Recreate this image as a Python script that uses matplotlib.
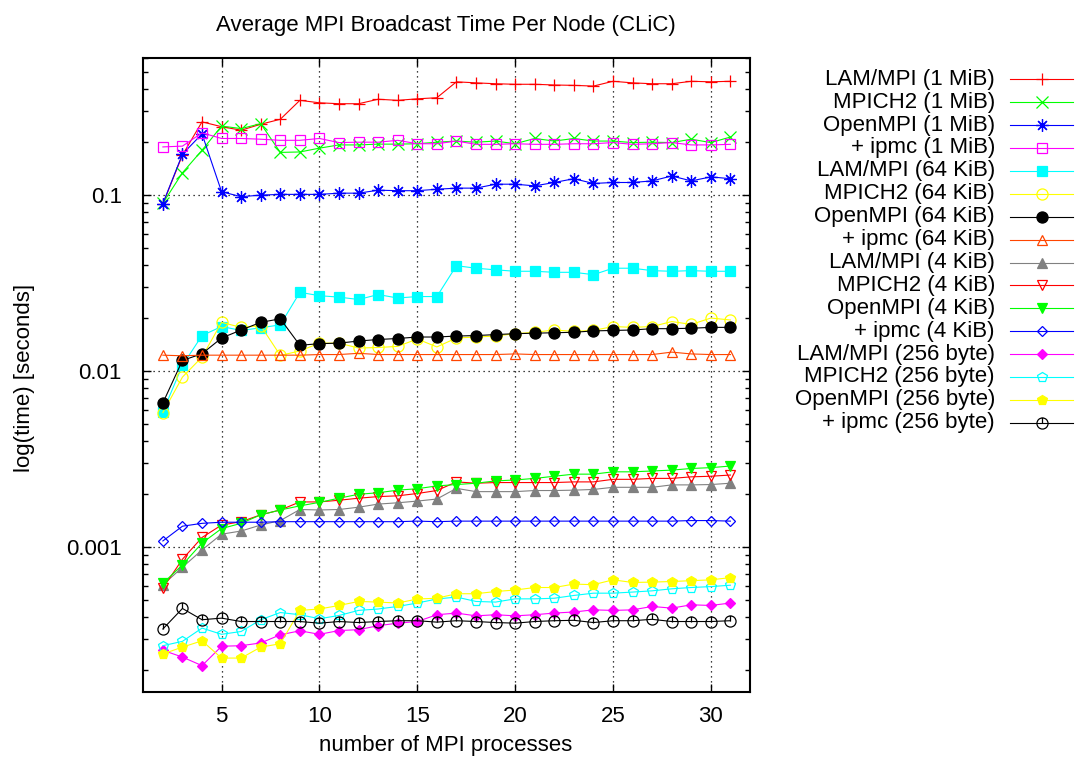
import matplotlib
import matplotlib.pyplot as plt
from matplotlib.lines import Line2D
from matplotlib.path import Path
from matplotlib.ticker import FixedLocator, LogLocator, NullFormatter, FuncFormatter

matplotlib.use('Agg')

plt.rcParams['font.family'] = ['Liberation Sans', 'DejaVu Sans']

procs = list(range(2, 32))

lam_1m = [0.089, 0.169, 0.261, 0.245, 0.234, 0.253, 0.270, 0.346, 0.335, 0.331, 0.331, 0.351, 0.346, 0.353, 0.358,
          0.441, 0.435, 0.430, 0.427, 0.427, 0.423, 0.421, 0.417, 0.444, 0.435, 0.430, 0.430, 0.444, 0.441, 0.444]
mpich_1m = [0.090, 0.134, 0.180, 0.247, 0.239, 0.255, 0.175, 0.176, 0.185, 0.193, 0.193, 0.195, 0.195, 0.196, 0.200,
            0.203, 0.200, 0.203, 0.196, 0.210, 0.203, 0.210, 0.203, 0.203, 0.199, 0.200, 0.199, 0.208, 0.199, 0.214]
open_1m = [0.0896, 0.171, 0.223, 0.1045, 0.098, 0.100, 0.101, 0.101, 0.101, 0.1026, 0.1026, 0.1067, 0.106, 0.106,
           0.108, 0.1096, 0.1096, 0.1154, 0.1154, 0.1129, 0.118, 0.124, 0.1165, 0.118, 0.118, 0.1205, 0.1285, 0.1205,
           0.127, 0.124]
ipmc_1m = [0.188, 0.190, 0.226, 0.210, 0.210, 0.208, 0.205, 0.205, 0.210, 0.199, 0.200, 0.200, 0.205, 0.196, 0.196,
           0.203, 0.1945, 0.1945, 0.196, 0.1945, 0.1945, 0.196, 0.196, 0.199, 0.1945, 0.196, 0.199, 0.193, 0.193,
           0.1945]

lam_64k = [0.00585, 0.01076, 0.0159, 0.0179, 0.0170, 0.0176, 0.0183, 0.0280, 0.0268, 0.0263, 0.0255, 0.0272, 0.0260,
           0.0265, 0.0265, 0.0397, 0.0384, 0.0376, 0.0369, 0.0369, 0.0364, 0.0364, 0.0353, 0.0384, 0.0384, 0.0372,
           0.0369, 0.0372, 0.0369, 0.0369]
mpich_64k = [0.0058, 0.00923, 0.0120, 0.0189, 0.0177, 0.0181, 0.01226, 0.0130, 0.0144, 0.0144, 0.0135, 0.0136, 0.0138,
             0.0152, 0.0137, 0.0154, 0.0156, 0.0158, 0.0163, 0.0166, 0.0171, 0.0168, 0.0170, 0.0179, 0.0177, 0.0179,
             0.0191, 0.0184, 0.0200, 0.0195]
open_64k = [0.00658, 0.01148, 0.01253, 0.0154, 0.0171, 0.0189, 0.0198, 0.0140, 0.0143, 0.0144, 0.0148, 0.0151, 0.0153,
            0.0156, 0.0156, 0.0158, 0.0159, 0.0161, 0.0163, 0.0164, 0.0165, 0.0166, 0.0169, 0.0170, 0.0171, 0.0174,
            0.0174, 0.0175, 0.0177, 0.0177]
ipmc_64k = [0.0123, 0.0122, 0.0123, 0.0123, 0.0123, 0.0123, 0.0123, 0.0123, 0.0124, 0.0124, 0.0126, 0.0124, 0.0124,
            0.0124, 0.0124, 0.0124, 0.0124, 0.0124, 0.0125, 0.0124, 0.0124, 0.0124, 0.0124, 0.0124, 0.0124, 0.0124,
            0.0128, 0.0125, 0.0124, 0.0124]

lam_4k = [0.000608, 0.000765, 0.00096, 0.00118, 0.00123, 0.00133, 0.00141, 0.00163, 0.00162, 0.00163, 0.00168,
          0.00175, 0.00178, 0.00182, 0.00187, 0.00215, 0.00206, 0.00206, 0.00206, 0.00209, 0.00209, 0.0021, 0.00212,
          0.00218, 0.00218, 0.00218, 0.00225, 0.00225, 0.00226, 0.0023]
mpich_4k = [0.000582, 0.00085, 0.00113, 0.00133, 0.00139, 0.00152, 0.00162, 0.0018, 0.0018, 0.00184, 0.00189, 0.00193,
            0.00195, 0.00201, 0.00209, 0.00234, 0.0023, 0.00232, 0.00232, 0.00232, 0.00232, 0.00234, 0.00234, 0.00242,
            0.00242, 0.00245, 0.00245, 0.0025, 0.00252, 0.00256]
open_4k = [0.00062, 0.00079, 0.00105, 0.00127, 0.00136, 0.00152, 0.00162, 0.00171, 0.00179, 0.00189, 0.00199,
           0.00203, 0.0021, 0.00214, 0.00222, 0.00226, 0.0023, 0.00237, 0.0024, 0.00245, 0.00252, 0.00259, 0.00259,
           0.00267, 0.00267, 0.0027, 0.00273, 0.00279, 0.00282, 0.00288]
ipmc_4k = [0.00108, 0.00131, 0.00136, 0.00138, 0.00138, 0.00138, 0.00139, 0.00139, 0.00139, 0.00139, 0.00139,
           0.00139, 0.00139, 0.00140, 0.00139, 0.00140, 0.00140, 0.00140, 0.00140, 0.00140, 0.00140, 0.00140, 0.00140,
           0.00140, 0.00140, 0.00140, 0.00140, 0.00141, 0.00141, 0.00140]

lam_256 = [0.000258, 0.000236, 0.000211, 0.000272, 0.000274, 0.000284, 0.000316, 0.000333, 0.000318, 0.000334,
           0.000338, 0.000356, 0.000368, 0.000376, 0.000411, 0.00042, 0.000405, 0.000411, 0.000405, 0.000411, 0.00042,
           0.000426, 0.000438, 0.000435, 0.000438, 0.000458, 0.000448, 0.000468, 0.000464, 0.000479]
mpich_256 = [0.000274, 0.00029, 0.000345, 0.000318, 0.00033, 0.000385, 0.000423, 0.000411, 0.00039, 0.000407,
             0.000435, 0.000443, 0.000458, 0.000479, 0.000505, 0.000518, 0.000489, 0.000485, 0.000506, 0.000506,
             0.00051, 0.000529, 0.000545, 0.000545, 0.000553, 0.000562, 0.000577, 0.000587, 0.000594, 0.000605]
open_256 = [0.000246, 0.000269, 0.000292, 0.000233, 0.000233, 0.000269, 0.000281, 0.000435, 0.000443, 0.000464,
            0.000489, 0.000485, 0.000479, 0.000505, 0.00051, 0.000541, 0.000541, 0.000557, 0.000568, 0.000587,
            0.000587, 0.000614, 0.000609, 0.000649, 0.000627, 0.00063, 0.000635, 0.000642, 0.000649, 0.000668]
ipmc_256 = [0.000341, 0.000446, 0.000385, 0.000393, 0.000376, 0.000376, 0.000376, 0.000376, 0.000368, 0.000376,
            0.000371, 0.000376, 0.00038, 0.00038, 0.000373, 0.00038, 0.000376, 0.000371, 0.000368, 0.000376, 0.00038,
            0.000382, 0.000371, 0.00038, 0.00038, 0.000387, 0.000376, 0.000376, 0.000376, 0.00038]

labels = ['LAM/MPI (1 MiB)', 'MPICH2 (1 MiB)', 'OpenMPI (1 MiB)', '+ ipmc (1 MiB)',
          'LAM/MPI (64 KiB)', 'MPICH2 (64 KiB)', 'OpenMPI (64 KiB)', '+ ipmc (64 KiB)',
          'LAM/MPI (4 KiB)', 'MPICH2 (4 KiB)', 'OpenMPI (4 KiB)', '+ ipmc (4 KiB)',
          'LAM/MPI (256 byte)', 'MPICH2 (256 byte)', 'OpenMPI (256 byte)', '+ ipmc (256 byte)']
series = [lam_1m, mpich_1m, open_1m, ipmc_1m, lam_64k, mpich_64k, open_64k, ipmc_64k,
          lam_4k, mpich_4k, open_4k, ipmc_4k, lam_256, mpich_256, open_256, ipmc_256]

# circle with a short vertical stroke, like gnuplot's point type
circle_tick = Path.make_compound_path(Path.unit_circle(),
                                      Path([[0, 0], [0, 1]], [Path.MOVETO, Path.LINETO]))

# (color, marker, size, filled)
styles = [
    ('#ff0000', '+', 9, False),
    ('#00ff00', 'x', 8, False),
    ('#0000ff', (8, 2, 0), 9, False),
    ('#ff00ff', 's', 7, False),
    ('#00ffff', 's', 7, True),
    ('#ffff00', 'o', 8, False),
    ('#000000', 'o', 8, True),
    ('#ff4500', '^', 7, False),
    ('#808080', '^', 7, True),
    ('#ff0000', 'v', 7, False),
    ('#00ff00', 'v', 7, True),
    ('#0000ff', 'D', 5, False),
    ('#ff00ff', 'D', 5, True),
    ('#00ffff', 'p', 7, False),
    ('#ffff00', 'p', 7, True),
    ('#000000', circle_tick, 8, False),
]

W, H = 1075, 760
fig = plt.figure(figsize=(W / 100, H / 100), dpi=100)
ax = fig.add_axes([143.3 / W, 1 - 691.7 / H, (750 - 143.3) / W, (691.7 - 58.3) / H])

for values, (color, marker, ms, filled) in zip(series, styles):
    ax.plot(procs, values, color=color, linewidth=0.8, marker=marker, markersize=ms,
            markerfacecolor=color if filled else 'none', markeredgecolor=color, markeredgewidth=0.9)

ax.set_yscale('log')
ax.set_xlim(1, 32)
ax.set_ylim(0.00015, 0.6)
ax.set_xticks([5, 10, 15, 20, 25, 30])
ax.yaxis.set_major_locator(FixedLocator([0.001, 0.01, 0.1]))
ax.yaxis.set_major_formatter(FuncFormatter(lambda v, p: {0.001: '0.001', 0.01: '0.01', 0.1: '0.1'}.get(round(v, 4), '')))
ax.yaxis.set_minor_locator(LogLocator(base=10, subs=[2, 3, 4, 5, 6, 7, 8, 9]))
ax.yaxis.set_minor_formatter(NullFormatter())
ax.tick_params(which='both', direction='in', top=True, right=True, labelsize=16, width=1)
ax.tick_params(which='major', length=6)
ax.tick_params(which='minor', length=3.5)
ax.tick_params(axis='x', pad=10)
ax.tick_params(axis='y', pad=15.5)
ax.grid(True, which='major', color='black', linestyle=(0, (1, 3)), linewidth=0.9)
for sp in ax.spines.values():
    sp.set_linewidth(1.5)

fig.text(446 / W, 1 - 25 / H, 'Average MPI Broadcast Time Per Node (CLiC)', ha='center', va='center', fontsize=16)
fig.text(446 / W, 1 - 746 / H, 'number of MPI processes', ha='center', va='center', fontsize=16)
fig.text(25 / W, 1 - 378 / H, 'log(time) [seconds]', ha='center', va='center', rotation=90, fontsize=16)

# key on the right, text right-aligned in front of the sample
for i, (label, (color, marker, ms, filled)) in enumerate(zip(labels, styles)):
    yk = 1 - (79.3 + i * 22.9) / H
    fig.text(995 / W, yk, label, ha='right', va='center', fontsize=16)
    fig.add_artist(Line2D([1010 / W, 1073 / W], [yk, yk], color=color, linewidth=0.8))
    fig.add_artist(Line2D([1041.5 / W], [yk], marker=marker, markersize=ms, color=color,
                          markerfacecolor=color if filled else 'none', markeredgewidth=0.9))

plt.savefig('out.png', dpi=100)
plt.close(fig)
